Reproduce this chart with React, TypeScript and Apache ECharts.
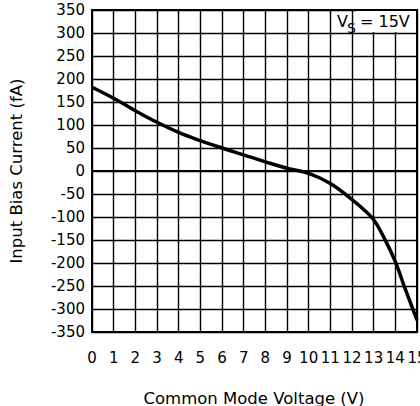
import React, { useEffect, useRef } from "react";
import * as echarts from "echarts";

const voltages = [0, 1, 2, 3, 4, 5, 6, 7, 8, 9, 10, 11, 12, 12.5, 13, 13.5, 14, 14.4, 14.8, 15];
const biasCurrent = [182, 158, 131, 106, 84, 66, 50, 35, 20, 6, -5, -27, -62, -82, -106, -147, -197, -249, -299, -324];

const xTicks = { min: 0, max: 15, step: 1 };
const yTicks = { min: -350, max: 350, step: 50 };

const xTitle = "Common Mode Voltage (V)";
const yTitle = "Input Bias Current (fA)";

const FONT = "DejaVu Sans";

export default function App() {
  const ref = useRef<HTMLDivElement>(null);

  useEffect(() => {
    if (!ref.current) return;
    const chart = echarts.init(ref.current, null, { renderer: "svg" });
    const data = voltages.map((v, i) => [v, biasCurrent[i]]);
    chart.setOption({
      animation: false,
      backgroundColor: "#fff",
      grid: {
        left: 92,
        right: 3,
        top: 10,
        bottom: 74,
        containLabel: false,
        outerBoundsMode: "none",
        show: true,
        borderColor: "#000",
        borderWidth: 2,
      },
      xAxis: {
        type: "value",
        min: xTicks.min,
        max: xTicks.max,
        interval: xTicks.step,
        axisLine: { show: true, lineStyle: { color: "#000", width: 2 } },
        axisTick: { show: false },
        axisLabel: {
          margin: 18,
          fontFamily: FONT,
          fontSize: 15,
          color: "#000",
          showMaxLabel: true,
          showMinLabel: true,
          hideOverlap: false,
        },
        splitLine: { show: true, lineStyle: { color: "#000", width: 1.4 } },
      },
      yAxis: {
        type: "value",
        min: yTicks.min,
        max: yTicks.max,
        interval: yTicks.step,
        axisLine: { show: true, lineStyle: { color: "#000", width: 2 } },
        axisTick: { show: false },
        axisLabel: {
          margin: 7,
          fontFamily: FONT,
          fontSize: 15,
          color: "#000",
          showMaxLabel: true,
          showMinLabel: true,
        },
        splitLine: { show: true, lineStyle: { color: "#000", width: 1.4 } },
      },
      series: [
        {
          type: "line",
          data,
          showSymbol: false,
          smooth: 0.4,
          lineStyle: { color: "#000", width: 3.5 },
          clip: false,
        },
      ],
      graphic: [
        {
          type: "text",
          x: 254,
          y: 398,
          style: {
            text: xTitle,
            font: `16.5px "${FONT}"`,
            fill: "#000",
            textAlign: "center",
            textVerticalAlign: "middle",
          },
        },
        {
          type: "text",
          x: 16.5,
          y: 171,
          rotation: Math.PI / 2,
          style: {
            text: yTitle,
            font: `16.5px "${FONT}"`,
            fill: "#000",
            textAlign: "center",
            textVerticalAlign: "middle",
          },
        },
        {
          type: "rect",
          shape: { x: 356, y: 11, width: 60, height: 21 },
          style: { fill: "#fff" },
          z: 100,
        },
        {
          type: "text",
          x: 337,
          y: 13,
          style: { text: "V", font: `16px "${FONT}"`, fill: "#000", textVerticalAlign: "top" },
          z: 101,
        },
        {
          type: "text",
          x: 347,
          y: 21,
          style: { text: "S", font: `14px "${FONT}"`, fill: "#000", textVerticalAlign: "top" },
          z: 101,
        },
        {
          type: "text",
          x: 360,
          y: 13,
          style: { text: "= 15V", font: `16px "${FONT}"`, fill: "#000", textVerticalAlign: "top" },
          z: 101,
        },
      ],
    });
    return () => chart.dispose();
  }, []);

  return (
    <div
      ref={ref}
      style={{ position: "fixed", left: 0, top: 0, width: 420, height: 406, background: "#fff" }}
    />
  );
}
